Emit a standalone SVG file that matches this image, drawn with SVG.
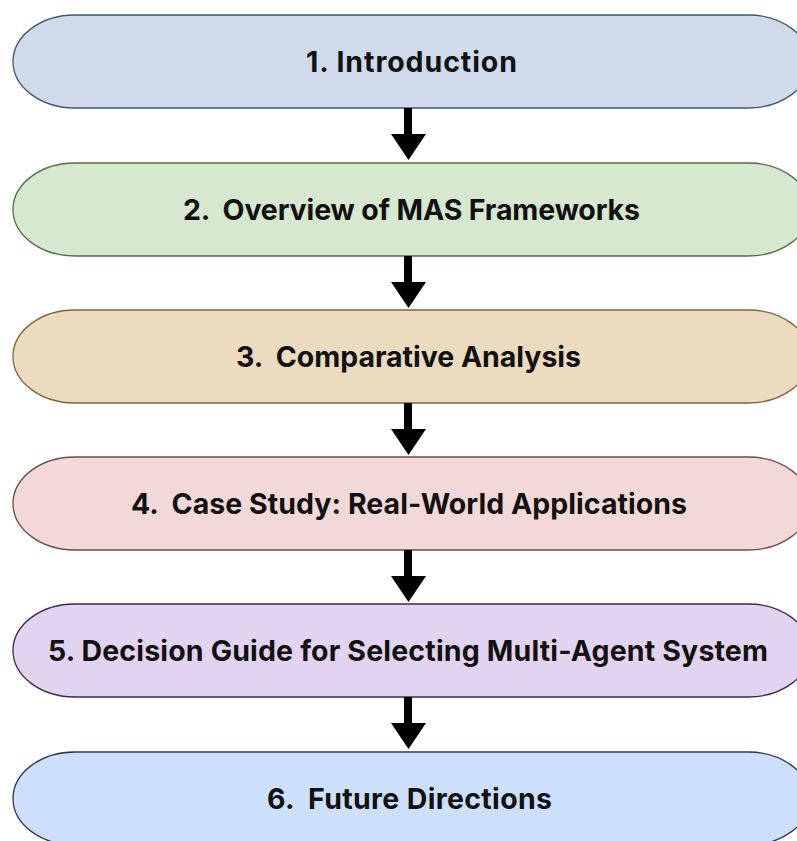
<svg xmlns="http://www.w3.org/2000/svg" width="797" height="841" viewBox="0 0 797 841">
  <defs>
    <!-- stadium outline shared by all six steps; 93px tall, elliptical ends -->
    <path id="pill" d="M75,0 H748 A62,46.5 0 0 1 748,93 H75 A62,46.5 0 0 1 75,0 Z"/>
    <!-- downward block arrow, 52px long -->
    <path id="down" d="M404,0 H412 V26 H426 L408.5,52 L391,26 H404 Z"/>
  </defs>
  <style>
    .lbl { font-family: Inter, "Open Sans", "Liberation Sans", sans-serif; font-weight: 700; font-size: 28.5px; fill: #111111; text-anchor: middle; white-space: pre; }
    .arrow { fill: #000000; }
    .s1 { fill: #cfdbea; stroke: #3e5677; stroke-width: 1.3; }
    .s2 { fill: #d6e8cf; stroke: #4e7040; stroke-width: 1.3; }
    .s3 { fill: #eddbbf; stroke: #7c6443; stroke-width: 1.3; }
    .s4 { fill: #f2d9d8; stroke: #6e4a4a; stroke-width: 1.3; }
    .s5 { fill: #e2d3f0; stroke: #3b2a4d; stroke-width: 1.3; }
    .s6 { fill: #cde0fb; stroke: #2e3850; stroke-width: 1.3; }
  </style>
  <rect width="797" height="841" fill="#ffffff"/>

  <g id="step1">
    <use href="#pill" class="s1" x="0" y="15"/>
    <text class="lbl" x="411.5" y="72" textLength="211">1. Introduction</text>
  </g>
  <g id="step2">
    <use href="#pill" class="s2" x="0" y="163"/>
    <text class="lbl" x="411.5" y="220" textLength="457">2.  Overview of MAS Frameworks</text>
  </g>
  <g id="step3">
    <use href="#pill" class="s3" x="0" y="310"/>
    <text class="lbl" x="408.5" y="367" textLength="345">3.  Comparative Analysis</text>
  </g>
  <g id="step4">
    <use href="#pill" class="s4" x="0" y="457"/>
    <text class="lbl" x="409" y="514" textLength="556">4.  Case Study: Real-World Applications</text>
  </g>
  <g id="step5">
    <use href="#pill" class="s5" x="0" y="604"/>
    <text class="lbl" x="408" y="661" textLength="720">5. Decision Guide for Selecting Multi-Agent System</text>
  </g>
  <g id="step6">
    <use href="#pill" class="s6" x="0" y="752"/>
    <text class="lbl" x="409.5" y="809" textLength="285">6.  Future Directions</text>
  </g>

  <g id="connectors" class="arrow">
    <use href="#down" y="108"/>
    <use href="#down" y="256"/>
    <use href="#down" y="403"/>
    <use href="#down" y="550"/>
    <use href="#down" y="697"/>
  </g>
</svg>
